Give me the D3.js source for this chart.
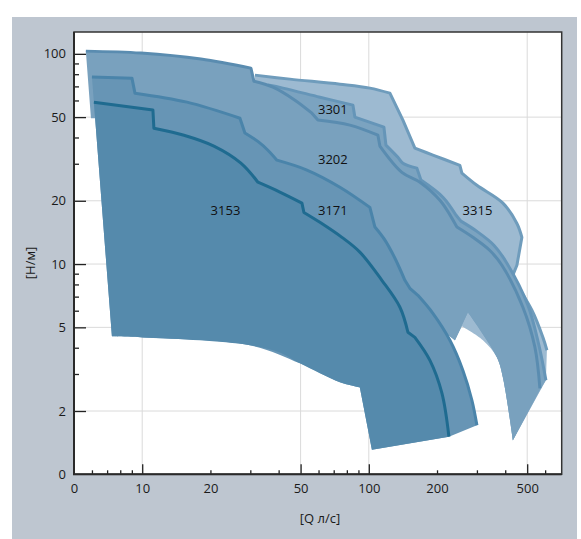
<!DOCTYPE html>
<html>
<head>
<meta charset="utf-8">
<script src="https://cdn.jsdelivr.net/npm/d3@7"></script>
<style>
  body { margin: 0; background: #fff; }
  svg { display: block; font-family: "Open Sans", "DejaVu Sans", sans-serif; }
  .tick text { font-size: 13px; fill: #1a1a1a; }
  .tick line { stroke: #222; stroke-width: 1.3; }
</style>
</head>
<body>
<div id="chart"></div>
<script>
// series names, back to front
const series = ["3315", "3301", "3202", "3171", "3153"];

// [Q л/с, H м] points. Each edge is a list of smooth runs,
// consecutive runs are joined by straight steps.
const top3153 = [
  [[6.12,58.9],[11.15,54.0]],
  [[11.26,44.3],[15.28,41.0],[20.72,36.4],[27.26,30.2],[32.41,24.5]],
  [[32.41,24.5],[40.5,22.0],[50.69,19.5]],
  [[51.72,17.6],[60.83,15.8],[76.1,13.4],[91.3,11.4],[114.2,8.37],[137.2,6.23],[148.8,4.74]],
  [[159.7,4.48],[186.1,3.48],[210.2,2.43],[225.7,1.51]]
];
const bottom3153 = [
  [[103.2,1.31]],
  [[91.3,2.59],[74.57,2.74],[49.67,3.37],[40.5,3.80],[29.88,4.11],[17.97,4.34],[10.07,4.48],[7.35,4.53]]
];

const top3171 = [
  [[6.00,77.5],[9.01,76.6]],
  [[9.29,65.0],[15.75,58.9],[27.0,49.4]],
  [[28.39,42.0],[32.7,38.0],[35.86,34.8],[39.3,31.2]],
  [[39.3,31.2],[53.32,28.0],[74.57,23.2],[101.1,18.6]],
  [[106.4,15.0],[117.8,13.0],[130.4,10.66],[144.3,8.37]],
  [[151.8,7.67],[164.7,7.10]],
  [[164.7,7.10],[191.8,5.83],[228.0,4.34],[260.2,3.12],[285.1,2.25],[300.0,1.71]]
];
const bottom3171 = [
  [[225.7,1.51]],
  [[103.2,1.31]],
  [[91.3,2.59],[74.57,2.74],[49.67,3.37],[29.88,4.11],[10.07,4.48],[7.35,4.53]],
  [[6.12,58.9]]
];

const top3202 = [
  [[5.64,103.0],[9.87,100.8],[18.16,94.4],[30.18,85.5]],
  [[31.1,74.1],[37.74,69.4],[47.2,60.2],[56.09,52.2]],
  [[59.61,48.4],[82.5,45.8],[109.7,41.0]],
  [[111.9,36.4],[140.0,27.3],[168.1,24.5],[206.0,20.1],[235.1,16.2]],
  [[244.8,15.0],[288.0,13.4],[342.2,11.6],[386.7,9.87],[478.6,6.23],[540.8,4.02],[569.0,2.56]]
];
const bottom3202 = [
  [[432.5,1.45],[390.7,2.89],[367.5,3.60],[273.7,5.90]],
  [[257.5,5.11]],
  [[239.9,4.34]],
  [[186.1,5.40],[82.5,11.6],[29.88,20.1],[10.81,38.8],[6.31,49.4]],
  [[5.94,49.4]]
];

const top3301 = [
  [[35.9,71.0],[41.77,68.7],[60.83,62.2],[85.1,57.0]],
  [[86.8,50.0],[116.6,44.8]],
  [[119.0,36.8],[134.4,32.2],[141.4,30.2],[163.0,28.6]],
  [[169.8,25.1],[212.3,20.8],[242.3,17.1]],
  [[254.9,16.0],[300.0,14.3],[356.4,12.3],[406.8,10.1],[503.6,6.37],[563.3,4.11],[604.8,2.80]]
];
const bottom3301 = [
  [[574.8,2.56]],
  [[432.5,1.45],[390.7,2.89],[367.5,3.60],[273.7,5.90]],
  [[257.5,5.11]],
  [[239.9,4.34]],
  [[186.1,5.40],[82.5,11.6],[49.67,43.3],[35.86,67.2]]
];

const top3315 = [
  [[31.44,79.2],[44.86,75.8],[74.57,71.7],[101.1,68.7],[123.9,65.0]],
  [[141.4,48.4]],
  [[159.7,35.6],[191.8,33.0],[252.3,29.5]],
  [[257.5,27.1],[300.0,23.7],[390.7,19.5],[450.4,15.6],[473.8,13.4]],
  [[450.4,9.87]],
  [[428.2,8.65],[524.5,6.03],[586.6,4.48],[610.9,3.89]]
];
const bottom3315 = [
  [[604.8,2.80]],
  [[432.5,1.45],[390.7,2.89],[367.5,3.60],[318.9,4.34],[257.5,5.06]],
  [[239.9,4.34]],
  [[186.1,5.40],[82.5,11.6],[49.67,48.4],[31.44,74.1]]
];

// where each name sits, [Q, H]
const labelPoints = [[301.6,18.0],[69.4,54.6],[69.4,31.5],[69.4,18.1],[23.3,18.1]];

// ticks
const xLabelValues = [5, 10, 20, 50, 100, 200, 500];
const xLabels = ["0", "10", "20", "50", "100", "200", "500"];
const xLong = [10, 50, 100, 500];
const xShort = [6, 7, 8, 9, 20, 30, 40, 60, 70, 80, 90, 200, 300, 400, 600];
const xGrid = [10, 50, 100, 500];

const yLabelValues = [1, 2, 5, 10, 20, 50, 100];
const yLabels = ["0", "2", "5", "10", "20", "50", "100"];
const yLong = [2, 5, 10, 20, 50, 100];
const yShort = [3, 4, 6, 7, 8, 9, 30, 40, 60, 70, 80, 90];
const yGrid = [2, 5, 10, 20, 50];

const tops = { "3153": top3153, "3171": top3171, "3202": top3202, "3301": top3301, "3315": top3315 };
const bottoms = { "3153": bottom3153, "3171": bottom3171, "3202": bottom3202, "3301": bottom3301, "3315": bottom3315 };

const fills = { "3315": "#9dbad1", "3301": "#7ba3c0", "3202": "#79a1be", "3171": "#6795b5", "3153": "#558aac" };
const strokes = { "3315": "#6f9cbc", "3301": "#6595b8", "3202": "#5a8cb0", "3171": "#4a84aa", "3153": "#1f6b90" };

var margin = { top: 32, right: 19.3, bottom: 64.7, left: 74 };
var width = 581, height = 539;
var plotW = width - margin.left - margin.right,
  plotH = height - margin.top - margin.bottom;

var svg = d3.select("#chart").append("svg")
  .attr("width", width)
  .attr("height", height);

// grey panel
svg.append("rect")
  .attr("x", 12).attr("y", 17)
  .attr("width", 565).attr("height", 522)
  .attr("fill", "#bec6d0");

svg.append("rect")
  .attr("x", margin.left).attr("y", margin.top)
  .attr("width", plotW).attr("height", plotH)
  .attr("fill", "#fff");

var x = d3.scaleLog().domain([5, 710]).range([margin.left, margin.left + plotW]);
var y = d3.scaleLog().domain([1, 127]).range([margin.top + plotH, margin.top]);

// GRID
svg.append("g").selectAll("line").data(xGrid).enter().append("line")
  .attr("x1", d => x(d)).attr("x2", d => x(d))
  .attr("y1", margin.top).attr("y2", margin.top + plotH)
  .attr("stroke", "#dadada").attr("stroke-width", 1);

svg.append("g").selectAll("line").data(yGrid).enter().append("line")
  .attr("y1", d => y(d)).attr("y2", d => y(d))
  .attr("x1", margin.left).attr("x2", margin.left + plotW)
  .attr("stroke", "#dadada").attr("stroke-width", 1);

// RANGES
var curved = d3.line()
  .x(d => x(d[0]))
  .y(d => y(d[1]))
  .curve(d3.curveCatmullRom.alpha(0.5));

// smooth inside a run, straight between runs
function runsPath(runs, isStart) {
  return runs.map((r, i) => {
    var s = curved(r).replace(/Z$/, "");
    return i === 0 && isStart ? s : "L" + s.slice(1);
  }).join("");
}

var ranges = svg.append("g").selectAll("g")
  .data(series).enter().append("g")
  .attr("class", d => "range r" + d);

ranges.append("path")
  .attr("d", d => runsPath(tops[d], true) + runsPath(bottoms[d], false) + "Z")
  .attr("fill", d => fills[d]);

ranges.append("path")
  .attr("d", d => runsPath(tops[d], true))
  .attr("fill", "none")
  .attr("stroke", d => strokes[d])
  .attr("stroke-width", 3)
  .attr("stroke-linejoin", "round");

// NAMES
svg.append("g").selectAll("text")
  .data(series).enter().append("text")
  .attr("x", (d, i) => x(labelPoints[i][0]))
  .attr("y", (d, i) => y(labelPoints[i][1]))
  .attr("text-anchor", "middle")
  .attr("dominant-baseline", "central")
  .style("font-size", "13px")
  .style("fill", "#111")
  .text(d => d);

// AXES
var gx = svg.append("g").attr("transform", `translate(0, ${margin.top + plotH})`);
gx.append("g").call(d3.axisBottom(x).tickValues(xShort).tickSize(-4).tickFormat(""));
gx.append("g").call(d3.axisBottom(x).tickValues(xLong).tickSize(-10).tickFormat(""));
gx.append("g").call(
  d3.axisBottom(x).tickValues(xLabelValues).tickSize(0).tickPadding(9)
    .tickFormat((d, i) => xLabels[i])
);
gx.selectAll(".domain").remove();

var gy = svg.append("g").attr("transform", `translate(${margin.left}, 0)`);
gy.append("g").call(d3.axisLeft(y).tickValues(yShort).tickSize(-5).tickFormat(""));
gy.append("g").call(d3.axisLeft(y).tickValues(yLong).tickSize(-12).tickFormat(""));
gy.append("g").call(
  d3.axisLeft(y).tickValues(yLabelValues).tickSize(0).tickPadding(8)
    .tickFormat((d, i) => yLabels[i])
);
gy.selectAll(".domain").remove();
svg.selectAll(".tick text").style("font-family", "'Open Sans', 'DejaVu Sans', sans-serif");

// frame
svg.append("rect")
  .attr("x", margin.left).attr("y", margin.top)
  .attr("width", plotW).attr("height", plotH)
  .attr("fill", "none").attr("stroke", "#333").attr("stroke-width", 1.5);
svg.append("path")
  .attr("d", `M${margin.left},${margin.top}V${margin.top + plotH}H${margin.left + plotW}`)
  .attr("fill", "none").attr("stroke", "#2a2a2a").attr("stroke-width", 2);

// axis titles
svg.append("text")
  .attr("transform", "translate(30, 263) rotate(-90)")
  .attr("text-anchor", "middle")
  .attr("dominant-baseline", "central")
  .style("font-size", "13px").style("fill", "#1a1a1a")
  .text("[H/м]");

svg.append("text")
  .attr("x", 320).attr("y", 518)
  .attr("text-anchor", "middle")
  .attr("dominant-baseline", "central")
  .style("font-size", "13px").style("fill", "#1a1a1a")
  .text("[Q л/с]");
</script>
</body>
</html>
